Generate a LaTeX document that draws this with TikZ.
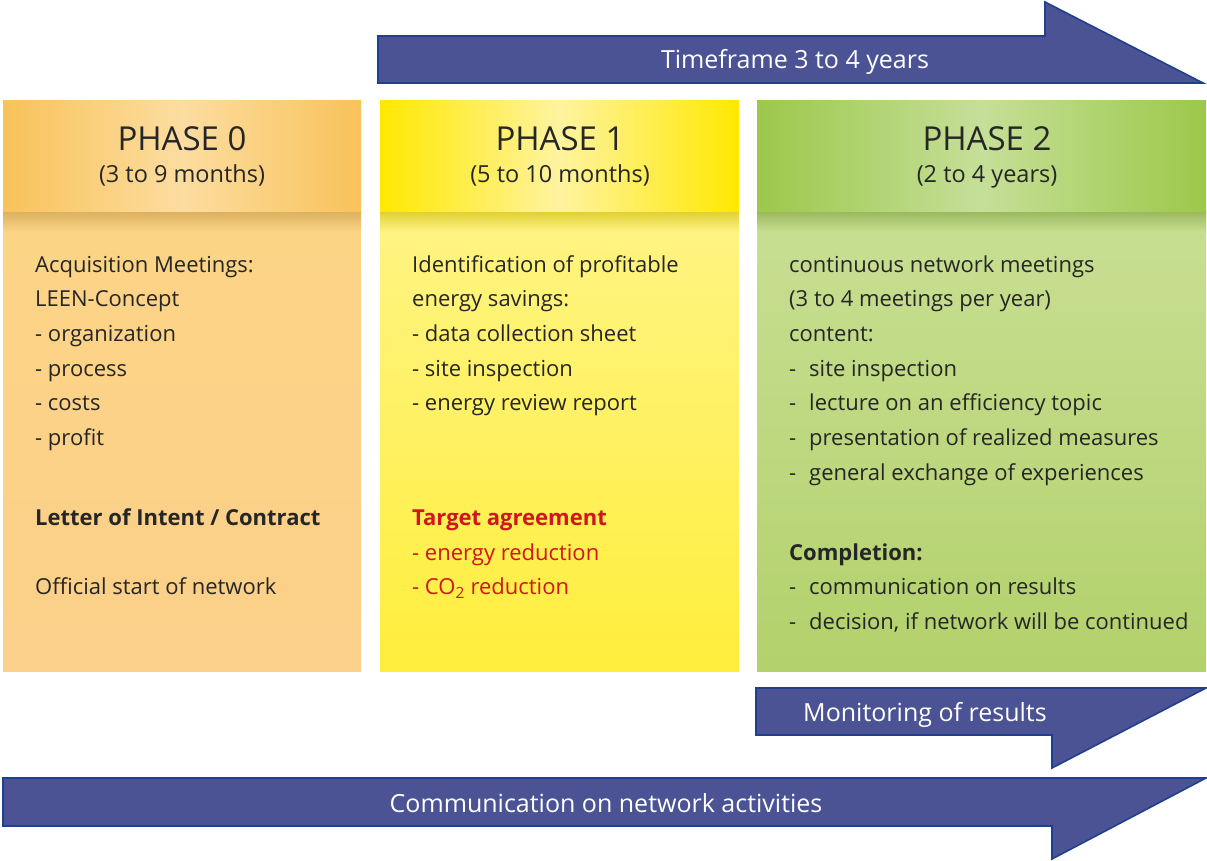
\documentclass[tikz,border=0pt]{standalone}
\usepackage{fontspec}
\setmainfont{Open Sans}
\begin{document}
\begin{tikzpicture}[x=1pt,y=-1pt,
  arrowshape/.style={fill=arrowfill,draw=arrowline,line width=1.6pt,line join=miter},
  arrowtext/.style={text=white,font=\fontsize{25}{30}\selectfont,inner sep=0pt,anchor=base},
  headtitle/.style={font=\fontsize{33}{40}\selectfont,inner sep=0pt,text=black!85,anchor=base},
  headsub/.style={font=\fontsize{23.5}{28}\selectfont,inner sep=0pt,text=black!85,anchor=base},
  bodytext/.style={font=\fontsize{22}{34.7}\selectfont,inner sep=0pt,align=left,anchor=base west,text=black!85},
  boldtext/.style={bodytext,font=\fontsize{22}{34.7}\selectfont\bfseries},
  redtext/.style={bodytext,text=redtxt}
]
\definecolor{arrowfill}{HTML}{4B5394}
\definecolor{arrowline}{HTML}{1F3F8F}
\definecolor{redtxt}{HTML}{D0161E}
\definecolor{orH}{HTML}{F9C25A}
\definecolor{orHl}{HTML}{FCDDA0}
\definecolor{orB}{HTML}{FCD486}
\definecolor{orBb}{HTML}{FBD08A}
\definecolor{yeH}{HTML}{FFE800}
\definecolor{yeHl}{HTML}{FFF3A0}
\definecolor{yeB}{HTML}{FFF485}
\definecolor{yeBb}{HTML}{FFEE3C}
\definecolor{grH}{HTML}{9CC84A}
\definecolor{grHl}{HTML}{C6DF98}
\definecolor{grB}{HTML}{C8DF93}
\definecolor{grBb}{HTML}{B3D16C}
\useasboundingbox (0,0) rectangle (1207,861);

% ---------- Phase boxes ----------
% Phase 0
\shade[top color=orB,bottom color=orBb] (3,212) rectangle (361,671);
\shade[top color=orH!80!black!60!orB,bottom color=orB] (3,212) rectangle (361,232);
\shade[left color=orH,right color=orH,middle color=orHl] (3,101) rectangle (361,212);
% Phase 1
\shade[top color=yeB,bottom color=yeBb] (380,212) rectangle (739,671);
\shade[top color=yeH!80!black!60!yeB,bottom color=yeB] (380,212) rectangle (739,232);
\shade[left color=yeH,right color=yeH,middle color=yeHl] (380,101) rectangle (739,212);
% Phase 2
\shade[top color=grB,bottom color=grBb] (757,212) rectangle (1206,671);
\shade[top color=grH!80!black!60!grB,bottom color=grB] (757,212) rectangle (1206,232);
\shade[left color=grH,right color=grH,middle color=grHl] (757,101) rectangle (1206,212);

% headers
\node[headtitle] (p0t) at (182,151) {PHASE 0};
\node[headsub]   (p0s) at (182,183) {(3 to 9 months)};
\node[headtitle] (p1t) at (560,151) {PHASE 1};
\node[headsub]   (p1s) at (560,183) {(5 to 10 months)};
\node[headtitle] (p2t) at (987,151) {PHASE 2};
\node[headsub]   (p2s) at (987,183) {(2 to 4 years)};

% ---------- body texts (anchor = baseline of last line) ----------
\node[bodytext] (p0a) at (35,445.5) {Acquisition Meetings:\\LEEN-Concept\\- organization\\- process\\- costs\\- profit};
\node[boldtext] (p0b) at (35,525) {Letter of Intent / Contract};
\node[bodytext] (p0c) at (35,594) {Official start of network};

\node[bodytext] (p1a) at (412,410.8) {Identification of profitable\\energy savings:\\- data collection sheet\\- site inspection\\- energy review report};
\node[boldtext,text=redtxt] (p1b) at (412,525) {Target agreement};
\node[redtext] (p1c) at (412,594.7) {- energy reduction\\- CO\textsubscript{2} reduction};

\node[bodytext] (p2a) at (789,341.4) {continuous network meetings\\(3 to 4 meetings per year)\\content:};
\node[bodytext] (p2d) at (789,480.2) {-\\-\\-\\-};
\node[bodytext] (p2b) at (809,480.2) {site inspection\\lecture on an efficiency topic\\presentation of realized measures\\general exchange of experiences};
\node[boldtext] (p2c) at (789,560) {Completion:};
\node[bodytext] (p2e) at (789,629.4) {-\\-};
\node[bodytext] (p2f) at (809,629.4) {communication on results\\decision, if network will be continued};

% ---------- arrows ----------
\draw[arrowshape] (378,36) -- (1045,36) -- (1045,2) -- (1203,83) -- (378,83) -- cycle;
\node[arrowtext] (tf) at (795,69) {Timeframe 3 to 4 years};

\draw[arrowshape] (756,688) -- (1206,688) -- (1052,768) -- (1052,735) -- (756,735) -- cycle;
\node[arrowtext,anchor=base west] (mon) at (803,721) {Monitoring of results};

\draw[arrowshape] (3,778) -- (1206,778) -- (1052,859) -- (1052,826) -- (3,826) -- cycle;
\node[arrowtext] (com) at (606,812) {Communication on network activities};
\end{tikzpicture}
\end{document}
